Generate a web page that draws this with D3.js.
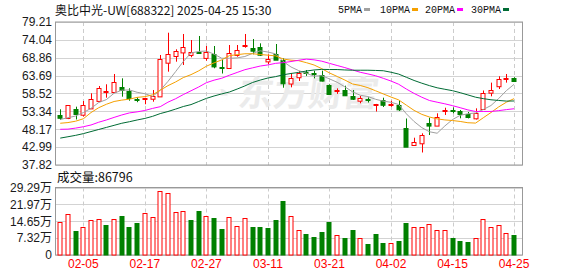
<!DOCTYPE html>
<html>
<head>
<meta charset="utf-8">
<script src="https://cdn.jsdelivr.net/npm/d3@7/dist/d3.min.js"></script>
<style>
  html, body { margin: 0; padding: 0; background: #fff; }
  svg { display: block; }
</style>
</head>
<body>
<svg id="chart" width="578" height="276"></svg>
<script>
// --- data ---
var dates = ["01-23","01-24","01-27","02-05","02-06","02-07","02-10","02-11","02-12","02-13",
  "02-14","02-17","02-18","02-19","02-20","02-21","02-24","02-25","02-26","02-27",
  "02-28","03-03","03-04","03-05","03-06","03-07","03-10","03-11","03-12","03-13",
  "03-14","03-17","03-18","03-19","03-20","03-21","03-24","03-25","03-26","03-27",
  "03-28","03-31","04-01","04-02","04-03","04-07","04-08","04-09","04-10","04-11",
  "04-14","04-15","04-16","04-17","04-18","04-21","04-22","04-23","04-24","04-25"];

var open = [52.3,51.34,53.94,52.29,54.12,56.26,59.0,58.86,60.31,59.24,
  56.8,57.2,57.0,57.59,67.43,69.37,70.32,69.7,70.6,68.9,
  69.86,66.2,65.81,69.66,72.5,71.6,71.89,67.72,69.95,68.21,
  61.4,63.2,64.6,64.4,63.75,60.97,59.3,59.53,57.79,56.34,
  56.8,55.4,56.63,55.1,55.19,48.53,43.47,44.1,50.06,49.31,
  53.5,53.75,53.45,52.44,51.42,53.94,58.76,60.54,62.8,63.0];
var high = [53.94,55.1,54.7,56.34,58.57,60.69,61.18,64.16,62.91,60.02,
  57.4,57.3,59.53,69.66,76.11,71.31,75.74,74.0,75.16,72.26,
  72.26,68.2,72.55,72.55,75.74,74.29,73.04,69.86,72.84,68.7,
  64.4,65.0,65.3,65.1,65.12,61.18,60.0,60.77,59.53,57.79,
  57.4,55.5,57.3,56.4,56.5,51.28,45.72,46.99,51.51,52.78,
  54.4,54.5,53.74,53.16,54.22,59.38,61.66,63.5,64.16,63.22];
var low = [50.85,51.1,51.0,51.86,54.1,56.26,57.3,58.86,57.59,56.43,
  56.0,55.4,56.14,57.59,64.83,67.72,66.76,69.0,70.15,68.0,
  65.81,64.3,65.81,69.17,71.77,69.86,69.37,67.05,68.21,60.19,
  60.3,62.13,63.6,62.9,62.0,58.37,58.4,57.79,56.63,55.68,
  55.9,53.3,54.6,54.7,53.45,43.12,43.4,41.44,46.5,49.31,
  52.3,52.8,51.33,51.3,50.99,53.94,57.7,59.82,61.66,61.93];
var close = [51.5,55.1,52.5,55.1,56.84,60.0,59.3,61.76,59.44,57.21,
  56.6,57.3,57.79,68.41,69.95,70.82,71.89,70.55,70.4,70.61,
  66.27,66.0,70.15,71.1,72.6,70.82,69.66,68.41,68.3,61.47,
  63.0,64.43,64.35,64.2,62.13,58.37,59.5,58.0,57.0,57.12,
  56.6,55.5,55.25,55.35,53.94,43.12,44.34,46.5,49.31,51.8,
  53.65,53.6,52.58,51.57,52.96,58.57,59.53,62.63,63.0,62.13];
var preClose = 51.0;

// volume in 万 shares
var volume = [14.2,17.96,10.34,12.36,15.08,15.8,12.92,15.8,16.8,12.06,
  13.78,18.39,16.67,27.57,26.7,18.82,19.25,15.08,18.95,17.1,
  16.24,11.2,16.67,12.79,16.24,12.06,12.06,11.63,15.08,23.26,
  16.8,10.77,9.05,7.75,9.9,14.21,8.47,7.32,10.77,7.18,
  4.74,9.05,5.17,5.02,6.03,13.78,12.36,12.36,13.64,10.77,
  11.05,7.32,6.03,5.6,7.18,15.8,12.36,13.2,9.33,8.68];
var lastVolume = 86796;

var ma5 = [51.0,51.5,52.0,53.0,54.21,55.91,56.75,58.6,59.47,59.54,
  58.86,58.46,57.67,59.46,62.01,64.85,67.77,70.26,70.68,70.81,
  69.9,68.72,68.71,68.83,69.22,70.13,70.87,70.52,69.98,67.75,
  66.19,65.14,64.36,63.54,63.67,62.75,61.76,60.46,59.0,58.0,
  57.64,56.84,56.31,55.97,55.33,52.64,50.41,48.64,47.44,47.01,
  49.11,50.98,52.2,52.65,52.88,53.88,55.04,57.05,59.34,61.17];
var ma10 = [49.9,50.1,50.5,51.2,53.0,54.4,55.4,56.2,56.6,56.88,
  57.39,57.61,58.13,59.47,60.78,61.86,63.12,63.97,65.07,66.41,
  67.38,68.25,69.48,69.75,70.02,70.02,69.8,69.61,69.4,68.49,
  68.16,68.01,67.44,66.76,65.71,64.47,63.45,62.41,61.27,60.84,
  60.2,59.3,58.39,57.49,56.67,55.14,53.63,52.48,51.71,51.17,
  50.87,50.69,50.42,50.05,49.95,51.49,53.01,54.63,55.99,57.03];
var ma20 = [48.15,48.2,48.5,48.9,49.4,50.2,50.85,51.6,52.3,52.9,
  53.2,53.6,54.2,54.7,56.0,57.0,58.2,59.3,60.4,61.64,
  62.38,62.93,63.81,64.61,65.4,65.94,66.46,66.79,67.24,67.45,
  67.77,68.13,68.46,68.26,67.87,67.24,66.62,66.01,65.34,64.66,
  64.18,63.65,62.91,62.12,61.19,59.8,58.54,57.44,56.49,56.0,
  55.53,55.0,54.4,53.77,53.31,53.32,53.32,53.55,53.85,54.1];
var ma30 = [45.6,46.0,46.4,46.9,47.5,48.1,48.7,49.3,49.9,50.35,
  50.85,51.3,51.9,52.7,53.3,54.0,54.75,55.3,56.2,57.1,
  57.8,58.4,58.95,59.8,60.7,61.7,62.4,63.0,63.4,63.93,
  64.31,64.62,65.02,65.33,65.5,65.45,65.45,65.33,65.25,65.25,
  65.25,65.19,65.1,64.67,64.13,63.21,62.29,61.5,60.79,60.17,
  59.74,59.33,58.75,58.1,57.44,57.03,56.7,56.5,56.32,56.35];

var priceTicks = [79.21,74.04,68.86,63.69,58.52,53.34,48.17,42.99,37.82];
var volTicks = [0,7.32,14.65,21.97,29.29];
var dateTicks = ["02-05","02-17","02-27","03-11","03-21","04-02","04-15","04-25"];
var maNames = ["5PMA","10PMA","20PMA","30PMA"];

// --- layout ---
var svg = d3.select('#chart');
var frame_left = 55.5, frame_right = 522.5;
var price_top = 22, price_bottom = 165;
var vol_top = 187.5, vol_bottom = 255;
var RED = '#ff0000', GREEN = '#008000';
var maColors = ['#a0a0a0','#f5a000','#ff00ff','#006b34'];

var x = d3.scaleBand().domain(dates).range([56.4, 517.9]);
var xc = function(d) { return x(d) + x.bandwidth() / 2; };
var y = d3.scaleLinear().domain([37.82, 79.21]).range([price_bottom, price_top]);
var yv = d3.scaleLinear().domain([0, 29.29]).range([vol_bottom, vol_top]);

var idx = d3.range(dates.length);

// horizontal grid
svg.append('g').selectAll('line').data(priceTicks).join('line')
  .attr('x1', frame_left).attr('x2', frame_right)
  .attr('y1', function(d) { return Math.round(y(d)) + 0.5; })
  .attr('y2', function(d) { return Math.round(y(d)) + 0.5; })
  .attr('stroke', '#d3d3d3');
svg.append('g').selectAll('line').data(volTicks).join('line')
  .attr('x1', frame_left).attr('x2', frame_right)
  .attr('y1', function(d) { return Math.round(yv(d)) + 0.5; })
  .attr('y2', function(d) { return Math.round(yv(d)) + 0.5; })
  .attr('stroke', '#d3d3d3');

// vertical dashed grid
[[price_top, price_bottom], [vol_top, vol_bottom]].forEach(function(p) {
  svg.append('g').selectAll('line').data(dateTicks).join('line')
    .attr('x1', function(d) { return Math.round(xc(d)) + 0.5; })
    .attr('x2', function(d) { return Math.round(xc(d)) + 0.5; })
    .attr('y1', p[0]).attr('y2', p[1])
    .attr('stroke', '#cccccc').attr('stroke-dasharray', '4,3');
});

// watermark
svg.append('text').attr('x', 238).attr('y', 106)
  .attr('font-family', 'Noto Sans CJK SC').attr('font-weight', 'bold')
  .attr('font-size', 35).attr('fill', '#ebebeb')
  .attr('transform', 'skewX(-8)').attr('dx', 14)
  .text('东方财富');
svg.append('text').attr('x', 212).attr('y', 104)
  .attr('font-family', 'Noto Sans CJK SC').attr('font-weight', 'bold')
  .attr('font-size', 30).attr('fill', '#ebebeb')
  .text('◔');

// frames
[[price_top, price_bottom], [vol_top, vol_bottom]].forEach(function(p) {
  svg.append('rect').attr('x', frame_left).attr('y', p[0])
    .attr('width', frame_right - frame_left).attr('height', p[1] - p[0])
    .attr('fill', 'none').attr('stroke', '#999');
});

// candles
var bodyW = 5;
var candles = svg.append('g');
candles.selectAll('line').data(idx).join('line')
  .attr('x1', function(i) { return Math.round(xc(dates[i])) + 0.5; })
  .attr('x2', function(i) { return Math.round(xc(dates[i])) + 0.5; })
  .attr('y1', function(i) { return y(high[i]); })
  .attr('y2', function(i) { return y(low[i]); })
  .attr('stroke', function(i) { return close[i] >= open[i] ? RED : GREEN; });
candles.selectAll('rect').data(idx).join('rect')
  .attr('x', function(i) { return Math.round(xc(dates[i])) - 2; })
  .attr('width', bodyW - 1)
  .attr('y', function(i) { return Math.round(y(Math.max(open[i], close[i]))) + 0.5; })
  .attr('height', function(i) { return Math.max(1, Math.abs(y(open[i]) - y(close[i]))); })
  .attr('fill', function(i) { return close[i] >= open[i] ? '#fff' : GREEN; })
  .attr('stroke', function(i) { return close[i] >= open[i] ? RED : GREEN; });

// moving averages
var maSeries = [ma5, ma10, ma20, ma30];
maSeries.forEach(function(s, k) {
  var line = d3.line()
    .x(function(v, i) { return xc(dates[i]); })
    .y(function(v) { return y(v); });
  svg.append('path').datum(s).attr('d', line)
    .attr('fill', 'none').attr('stroke', maColors[k]).attr('stroke-width', 1);
});

// volume bars
var volUp = function(i) { return close[i] >= (i === 0 ? preClose : close[i - 1]); };
svg.append('g').selectAll('rect').data(idx).join('rect')
  .attr('x', function(i) { return Math.round(xc(dates[i])) - 2; })
  .attr('width', bodyW - 1)
  .attr('y', function(i) { return Math.round(yv(volume[i])) + 0.5; })
  .attr('height', function(i) { return vol_bottom - Math.round(yv(volume[i])) - 0.5; })
  .attr('fill', function(i) { return volUp(i) ? '#fff' : GREEN; })
  .attr('stroke', function(i) { return volUp(i) ? RED : GREEN; });

// axes labels
var yAxis = d3.axisLeft(y).tickValues(priceTicks).tickSize(0).tickPadding(3)
  .tickFormat(d3.format('.2f'));
svg.append('g').attr('transform', 'translate(' + (frame_left - 0.5) + ',0)').call(yAxis)
  .call(function(g) { g.select('.domain').remove(); })
  .selectAll('text').attr('font-family', 'Liberation Sans').attr('font-size', 12)
  .attr('fill', '#1a1a1a');

var yvAxis = d3.axisLeft(yv).tickValues(volTicks).tickSize(0).tickPadding(3)
  .tickFormat(function(d) { return d === 0 ? '0' : d3.format('.2f')(d) + '万'; });
svg.append('g').attr('transform', 'translate(' + (frame_left - 0.5) + ',0)').call(yvAxis)
  .call(function(g) { g.select('.domain').remove(); })
  .selectAll('text').attr('font-family', 'Liberation Sans, Noto Sans CJK SC').attr('font-size', 12)
  .attr('fill', '#1a1a1a');

var xAxis = d3.axisBottom(x).tickValues(dateTicks).tickSize(0).tickPadding(4);
svg.append('g').attr('transform', 'translate(0,' + vol_bottom + ')').call(xAxis)
  .call(function(g) { g.select('.domain').remove(); })
  .selectAll('text').attr('font-family', 'Liberation Sans').attr('font-size', 12)
  .attr('fill', RED);

// title and volume label
svg.append('text').attr('x', 55).attr('y', 15)
  .attr('font-family', 'Noto Sans CJK SC').attr('font-size', 12).attr('fill', '#111')
  .text('奥比中光-UW[688322] 2025-04-25 15:30');
svg.append('text').attr('x', 57).attr('y', 182)
  .attr('font-family', 'Noto Sans CJK SC').attr('font-size', 12.5).attr('fill', '#111')
  .text('成交量:' + lastVolume);

// legend
var legendX = [338, 380, 425, 471];
maNames.forEach(function(name, k) {
  var t = svg.append('text').attr('x', legendX[k]).attr('y', 13)
    .attr('font-family', 'Liberation Mono').attr('font-size', 10).attr('fill', '#111')
    .text(name);
  var w = t.node().getComputedTextLength();
  svg.append('rect').attr('x', legendX[k] + w + 2).attr('y', 8)
    .attr('width', 6).attr('height', 3).attr('fill', maColors[k]);
});
</script>
</body>
</html>
